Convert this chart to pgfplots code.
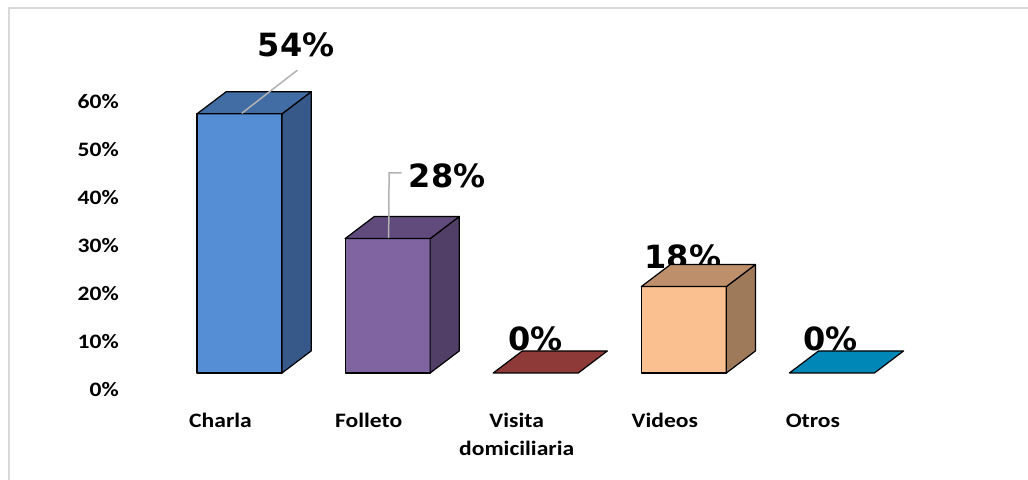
\documentclass[border=0pt]{standalone}
\usepackage{pgfplots}
\pgfplotsset{compat=1.18}
\usepackage{graphicx}
\usepackage{fontspec}
\setmainfont{Carlito}
\newfontfamily\dlfont{DejaVu Sans}
\definecolor{c1f}{HTML}{558ED5}\definecolor{c1t}{HTML}{416CA4}\definecolor{c1s}{HTML}{36598A}
\definecolor{c2f}{HTML}{8064A2}\definecolor{c2t}{HTML}{614B7C}\definecolor{c2s}{HTML}{523F68}
\definecolor{c3t}{HTML}{8E3A38}
\definecolor{c4f}{HTML}{FAC090}\definecolor{c4t}{HTML}{BD8F6B}\definecolor{c4s}{HTML}{9E7A5A}
\definecolor{c5t}{HTML}{0087B8}
\definecolor{frame}{HTML}{D9D9D9}
\newcommand{\sx}[1]{\scalebox{1.15}[1]{#1}}
\begin{document}
\begin{tikzpicture}
\useasboundingbox[fill=white] (0bp,0bp) rectangle (1028bp,480bp);
\draw[frame,line width=2bp] (9bp,0bp) -- (9bp,472bp) -- (1028bp,472bp);
\begin{axis}[
  at={(124bp,107bp)}, anchor=south west,
  scale only axis, width=856bp, height=336bp,
  xmin=-0.78, xmax=5, ymin=0, ymax=70,
  clip=false,
  axis line style={draw=none}, major tick length=0pt,
  ytick={0,10,20,30,40,50,60},
  yticklabels={\sx{0\%},\sx{10\%},\sx{20\%},\sx{30\%},\sx{40\%},\sx{50\%},\sx{60\%}},
  yticklabel style={font=\bfseries\fontsize{20.5bp}{24bp}\selectfont, anchor=east, inner sep=0pt, xshift=-5bp, yshift=-17bp, overlay},
  xtick={0,1,2,3,4},
  xticklabels={{\sx{Charla}\\\mbox{}},{\sx{Folleto}\\\mbox{}},{\sx{Visita}\\\sx{domiciliaria}},{\sx{Videos}\\\mbox{}},{\sx{Otros}\\\mbox{}}},
  xticklabel style={font=\bfseries\fontsize{20.5bp}{28bp}\selectfont, align=center, anchor=base, inner sep=0pt, yshift=-82.7bp, xshift=-19bp, overlay},
  every axis plot/.append style={draw=black, line width=1.2bp, line join=round, mark=none},
]
% --- Charla 54% ---
\addplot[fill=c1f] coordinates {(-0.287,0) (0.287,0) (0.287,54) (-0.287,54)} -- cycle;
\addplot[fill=c1s] coordinates {(0.287,0) (0.484,4.6) (0.484,58.6) (0.287,54)} -- cycle;
\addplot[fill=c1t] coordinates {(-0.287,54) (0.287,54) (0.484,58.6) (-0.090,58.6)} -- cycle;
% --- Folleto 28% ---
\addplot[fill=c2f] coordinates {(0.713,0) (1.287,0) (1.287,28) (0.713,28)} -- cycle;
\addplot[fill=c2s] coordinates {(1.287,0) (1.484,4.6) (1.484,32.6) (1.287,28)} -- cycle;
\addplot[fill=c2t] coordinates {(0.713,28) (1.287,28) (1.484,32.6) (0.910,32.6)} -- cycle;
% --- Visita domiciliaria 0% ---
\addplot[fill=c3t] coordinates {(1.713,0) (2.287,0) (2.484,4.6) (1.910,4.6)} -- cycle;
% --- Videos 18% ---
\node[font=\dlfont\bfseries\fontsize{32bp}{36bp}\selectfont, inner sep=0pt, overlay] at (axis cs:2.994,24.2) {18\%};
\addplot[fill=c4f] coordinates {(2.713,0) (3.287,0) (3.287,18) (2.713,18)} -- cycle;
\addplot[fill=c4s] coordinates {(3.287,0) (3.484,4.6) (3.484,22.6) (3.287,18)} -- cycle;
\addplot[fill=c4t] coordinates {(2.713,18) (3.287,18) (3.484,22.6) (2.910,22.6)} -- cycle;
% --- Otros 0% ---
\addplot[fill=c5t] coordinates {(3.713,0) (4.287,0) (4.484,4.6) (3.910,4.6)} -- cycle;
% --- leaders and labels ---
\draw[gray!60, line width=1.5bp] (axis cs:0.391,63.1) -- (axis cs:0.015,54.1);
\draw[gray!60, line width=1.5bp] (axis cs:1.095,41.7) -- (axis cs:1.010,41.7) -- (axis cs:1.007,28.1);
\node[font=\dlfont\bfseries\fontsize{32bp}{36bp}\selectfont, inner sep=0pt, overlay] at (axis cs:0.383,68.3) {54\%};
\node[font=\dlfont\bfseries\fontsize{32bp}{36bp}\selectfont, inner sep=0pt, overlay] at (axis cs:1.402,41.1) {28\%};
\node[font=\dlfont\bfseries\fontsize{32bp}{36bp}\selectfont, inner sep=0pt, overlay] at (axis cs:1.999,7.1) {0\%};
\node[font=\dlfont\bfseries\fontsize{32bp}{36bp}\selectfont, inner sep=0pt, overlay] at (axis cs:3.990,7.1) {0\%};
\end{axis}
\end{tikzpicture}
\end{document}
